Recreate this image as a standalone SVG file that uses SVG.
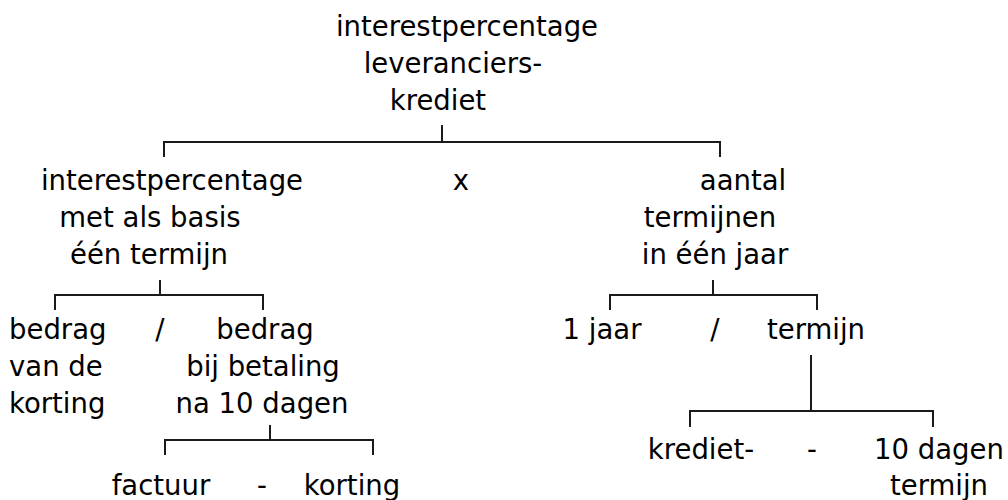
<svg xmlns="http://www.w3.org/2000/svg" width="1008" height="500" viewBox="0 0 1008 500">
<style>
text{font-family:"DejaVu Sans","Liberation Sans",sans-serif;font-size:27.5px;fill:#000;text-anchor:middle}
.l{text-anchor:start}
.c{fill:none;stroke:#1a1a1a;stroke-width:2}
</style>
<rect width="1008" height="500" fill="#fff"/>
<g id="connectors" class="c">
<path d="M442 125V142M164 157V142H720V157"/>
<path d="M160 280V295M55 310V295H263V310"/>
<path d="M713 280V295M610 310V295H817V310"/>
<path d="M270 425V440M165 455V440H373V455"/>
<path d="M811 355V411M690 427V411H933V427"/>
</g>
<g id="root"><text x="467" y="36">interestpercentage</text><text x="453" y="73">leveranciers-</text><text x="438" y="110">krediet</text></g>
<g id="rente-termijn"><text x="172" y="190">interestpercentage</text><text x="150" y="227">met als basis</text><text x="149" y="264">één termijn</text></g>
<g id="op-x"><text x="461" y="190">x</text></g>
<g id="aantal-termijnen"><text x="743" y="190">aantal</text><text x="710" y="227">termijnen</text><text x="715" y="264">in één jaar</text></g>
<g id="bedrag-korting"><text class="l" x="9" y="339">bedrag</text><text class="l" x="9" y="376">van de</text><text class="l" x="9" y="413">korting</text></g>
<g id="op-deel1"><text x="160" y="339">/</text></g>
<g id="bedrag-betaling"><text x="265" y="339">bedrag</text><text x="263" y="376">bij betaling</text><text x="262" y="413">na 10 dagen</text></g>
<g id="een-jaar"><text x="602" y="339">1 jaar</text></g>
<g id="op-deel2"><text x="715" y="339">/</text></g>
<g id="termijn"><text x="816" y="339">termijn</text></g>
<g id="factuur"><text x="161" y="495">factuur</text></g>
<g id="op-min1"><text x="262" y="495">-</text></g>
<g id="korting"><text x="352" y="495">korting</text></g>
<g id="kredietterm"><text x="701" y="459">krediet-</text></g>
<g id="op-min2"><text x="812" y="459">-</text></g>
<g id="tien-dagen"><text x="939" y="459">10 dagen</text><text x="939" y="495">termijn</text></g>
</svg>
